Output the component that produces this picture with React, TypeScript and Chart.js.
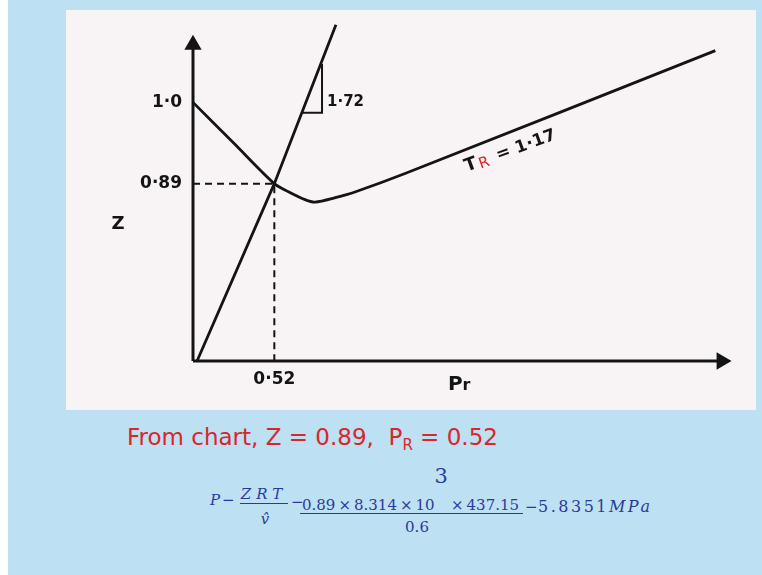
import React, { useEffect, useRef } from 'react';
import { Chart, registerables } from 'chart.js';

Chart.register(...registerables);

// Axis ranges (reduced pressure Pr, compressibility factor Z)
const PR_MIN = 0;
const PR_MAX = 3.6;
const Z_MIN = 0.65;
const Z_MAX = 1.125;

// Marked readings on the axes
const PR_TICKS = [0.52];
const PR_TICK_LABELS = ['0·52'];
const Z_TICKS = [0.89, 1.0];
const Z_TICK_LABELS = ['0·89', '1·0'];

// Z along the Tr = 1.17 isotherm
const CURVE_PR = [0, 0.26, 0.52, 0.61, 0.72, 0.78, 0.91, 1.04, 1.36, 3.34];
const CURVE_Z = [1.0, 0.945, 0.89, 0.879, 0.868, 0.865, 0.871, 0.879, 0.904, 1.07];

// Straight line from the origin (slope 1.72)
const LINE_PR = [0.026, 0.52, 0.914];
const LINE_Z = [0.65, 0.89, 1.105];

// Slope marker on the straight line
const SLOPE_PR = [0.697, 0.825, 0.825];
const SLOPE_Z = [0.986, 0.986, 1.052];

// Dashed read-off lines to the intersection
const READ_PR = [0, 0.52, 0.52];
const READ_Z = [0.89, 0.89, 0.65];

// Axis arrow ends
const Y_AXIS_END = 1.078;
const X_AXIS_END = 3.38;

const INK = '#141414';
const PAPER = '#f8f4f5';
const SKY = '#bde0f3';
const RED = '#d9262a';
const NAVY = '#2b3a9a';

const pts = (xs: number[], ys: number[]) => xs.map((x, i) => ({ x, y: ys[i] }));

const labelFor = (ticks: number[], labels: string[]) => (v: number | string) => {
  const i = ticks.findIndex((t) => Math.abs(t - Number(v)) < 1e-6);
  return i >= 0 ? labels[i] : '';
};

// Axis names, slope value and the isotherm label
const notes = {
  id: 'notes',
  afterDraw(chart: any) {
    const { ctx, chartArea, scales } = chart;
    const xs = scales.x;
    const ys = scales.y;
    ctx.save();
    ctx.fillStyle = INK;
    ctx.textBaseline = 'alphabetic';

    ctx.font = 'bold 18px "DejaVu Sans"';
    ctx.textAlign = 'center';
    ctx.fillText('Z', chartArea.left - 75, ys.getPixelForValue(0.838) + 7);

    ctx.textAlign = 'left';
    ctx.font = 'bold 20px "DejaVu Sans"';
    ctx.fillText('P', xs.getPixelForValue(1.63), chartArea.bottom + 29);
    const pw = ctx.measureText('P').width;
    ctx.font = 'bold 16px "DejaVu Sans"';
    ctx.fillText('r', xs.getPixelForValue(1.63) + pw, chartArea.bottom + 29);

    ctx.font = 'bold 15px "DejaVu Sans"';
    ctx.textBaseline = 'middle';
    ctx.fillText('1·72', xs.getPixelForValue(SLOPE_PR[1]) + 5, ys.getPixelForValue(1.0));

    // Tr label laid along the isotherm
    ctx.textBaseline = 'alphabetic';
    ctx.translate(xs.getPixelForValue(1.75), ys.getPixelForValue(0.906));
    ctx.rotate((-20 * Math.PI) / 180);
    ctx.font = 'bold 18px "DejaVu Sans"';
    ctx.fillText('T', 0, 0);
    let w = ctx.measureText('T').width + 2;
    ctx.fillStyle = RED;
    ctx.font = '15px "DejaVu Sans"';
    ctx.fillText('R', w, 2);
    w += ctx.measureText('R').width + 9;
    ctx.fillStyle = INK;
    ctx.font = 'bold 17px "DejaVu Sans"';
    ctx.fillText('=', w, 0);
    w += ctx.measureText('=').width + 6;
    ctx.fillText('1·17', w, 0);
    ctx.restore();
  },
};

function Txt(props: {
  x: number;
  base: number;
  size: number;
  center?: boolean;
  italic?: boolean;
  family?: string;
  spacing?: number;
  color?: string;
  children: React.ReactNode;
}) {
  const { x, base, size, center, italic, family, spacing, color, children } = props;
  return (
    <span
      style={{
        position: 'absolute',
        left: x,
        top: base - 0.846 * size,
        fontSize: size,
        lineHeight: `${size}px`,
        fontFamily: family ?? '"DejaVu Serif"',
        fontStyle: italic ? 'italic' : 'normal',
        letterSpacing: spacing ?? 0,
        color: color ?? NAVY,
        whiteSpace: 'nowrap',
        transform: center ? 'translateX(-50%)' : undefined,
      }}
    >
      {children}
    </span>
  );
}

const Bar = (p: { x: number; y: number; w: number }) => (
  <div style={{ position: 'absolute', left: p.x, top: p.y, width: p.w, height: 1, background: NAVY }} />
);

export default function App() {
  const canvasRef = useRef<HTMLCanvasElement>(null);

  useEffect(() => {
    const line = (data: { x: number; y: number }[], extra: object = {}) => ({
      data,
      borderColor: INK,
      backgroundColor: INK,
      borderWidth: 2.8,
      pointRadius: 0,
      tension: 0,
      clip: false as const,
      ...extra,
    });

    const chart = new Chart(canvasRef.current!, {
      type: 'line',
      data: {
        datasets: [
          line(pts(CURVE_PR, CURVE_Z), { tension: 0.3 }),
          line(pts(LINE_PR, LINE_Z)),
          line(pts(SLOPE_PR, SLOPE_Z), { borderWidth: 2 }),
          line(pts(READ_PR, READ_Z), { borderWidth: 2, borderDash: [7, 5] }),
          line(pts([0, 0], [Z_MIN, Y_AXIS_END]), {
            borderWidth: 3,
            pointStyle: 'triangle',
            pointRadius: [0, 7],
            pointRotation: [0, 0],
          }),
          line(pts([PR_MIN, X_AXIS_END], [Z_MIN, Z_MIN]), {
            borderWidth: 3,
            pointStyle: 'triangle',
            pointRadius: [0, 7],
            pointRotation: [0, 90],
          }),
        ],
      },
      options: {
        responsive: false,
        maintainAspectRatio: false,
        devicePixelRatio: 1,
        animation: false,
        events: [],
        layout: { autoPadding: false, padding: 0 },
        plugins: { legend: { display: false }, tooltip: { enabled: false } },
        scales: {
          x: {
            type: 'linear',
            min: PR_MIN,
            max: PR_MAX,
            grid: { display: false, drawTicks: false },
            border: { display: false },
            afterBuildTicks: (s: any) => {
              s.ticks = PR_TICKS.map((value) => ({ value }));
            },
            afterFit: (s: any) => {
              s.height = 49;
              s.paddingLeft = 0;
              s.paddingRight = 0;
            },
            ticks: {
              padding: 8,
              color: INK,
              font: { family: 'DejaVu Sans', weight: 'bold', size: 17 },
              maxRotation: 0,
              callback: labelFor(PR_TICKS, PR_TICK_LABELS),
            },
          },
          y: {
            type: 'linear',
            min: Z_MIN,
            max: Z_MAX,
            grid: { display: false, drawTicks: false },
            border: { display: false },
            afterBuildTicks: (s: any) => {
              s.ticks = Z_TICKS.map((value) => ({ value }));
            },
            afterFit: (s: any) => {
              s.width = 127;
              s.paddingTop = 0;
              s.paddingBottom = 0;
            },
            ticks: {
              padding: 11,
              color: INK,
              font: { family: 'DejaVu Sans', weight: 'bold', size: 17 },
              callback: labelFor(Z_TICKS, Z_TICK_LABELS),
            },
          },
        },
      } as any,
      plugins: [notes],
    });
    return () => chart.destroy();
  }, []);

  return (
    <div
      style={{
        position: 'fixed',
        left: 8,
        top: 0,
        width: 754,
        height: 575,
        background: SKY,
        overflow: 'hidden',
      }}
    >
      <div style={{ position: 'absolute', left: 58, top: 10, width: 690, height: 400, background: PAPER }}>
        <canvas ref={canvasRef} width={690} height={400} style={{ display: 'block' }} />
      </div>

      <Txt x={119} base={445} size={23} family='"DejaVu Sans"' color={RED}>
        From chart, Z = 0.89,&nbsp; P
        <span style={{ fontSize: 15, position: 'relative', top: 5 }}>R</span> = 0.52
      </Txt>

      <Txt x={202} base={506} size={15} italic>P</Txt>
      <Txt x={214} base={506} size={15}>−</Txt>
      <Txt x={256} base={500} size={15} italic spacing={5} center>ZRT</Txt>
      <Bar x={232} y={503} w={48} />
      <Txt x={257} base={525} size={15} italic center>{'v\u0302'}</Txt>
      <Txt x={283} base={508} size={15}>−</Txt>
      <Txt x={294} base={509} size={15}>
        0.89{'\u2009'}×{'\u2009'}8.314{'\u2009'}×{'\u2009'}10
        <span style={{ fontSize: 21, position: 'relative', top: -27 }}>3</span>
        {'\u2009'}×{'\u2009'}437.15
      </Txt>
      <Bar x={292} y={513} w={223} />
      <Txt x={409} base={533} size={15} center>0.6</Txt>
      <Txt x={517} base={513} size={15}>−</Txt>
      <Txt x={530} base={513} size={16} spacing={2.5}>
        5.8351<span style={{ fontStyle: 'italic' }}>MPa</span>
      </Txt>
    </div>
  );
}
